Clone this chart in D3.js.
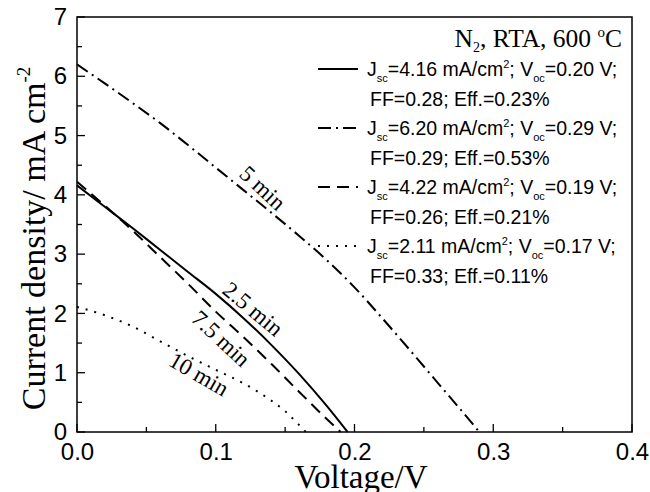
<!DOCTYPE html>
<html>
<head>
<meta charset="utf-8">
<script src="https://cdn.jsdelivr.net/npm/d3@7"></script>
<style>
  body { margin: 0; background: #fff; }
  svg { display: block; }
</style>
</head>
<body>
<script>
// J-V curves, N2 RTA 600 C
const volt25 = [0, 0.02, 0.04, 0.06, 0.08, 0.10, 0.12, 0.14, 0.16, 0.18, 0.195]
const curr25 = [4.16, 3.80, 3.44, 3.07, 2.70, 2.33, 1.92, 1.47, 0.98, 0.44, 0]

const volt5 = [0, 0.02, 0.04, 0.06, 0.08, 0.10, 0.12, 0.14, 0.16, 0.18, 0.20, 0.22, 0.24, 0.26, 0.28, 0.29]
const curr5 = [6.20, 5.88, 5.55, 5.21, 4.84, 4.46, 4.08, 3.70, 3.31, 2.90, 2.44, 1.92, 1.38, 0.83, 0.28, 0]

const volt75 = [0, 0.02, 0.04, 0.06, 0.08, 0.10, 0.12, 0.14, 0.16, 0.18, 0.19]
const curr75 = [4.22, 3.82, 3.40, 2.95, 2.50, 2.03, 1.60, 1.15, 0.68, 0.22, 0]

const volt10 = [0, 0.02, 0.04, 0.06, 0.08, 0.10, 0.12, 0.14, 0.15, 0.16, 0.165]
const curr10 = [2.11, 1.97, 1.78, 1.53, 1.28, 1.05, 0.82, 0.53, 0.35, 0.12, 0]

const xTicks = [0, 0.1, 0.2, 0.3, 0.4]
const yTicks = [0, 1, 2, 3, 4, 5, 6, 7]

const legendJsc = ['4.16', '6.20', '4.22', '2.11']
const legendVoc = ['0.20', '0.29', '0.19', '0.17']
const legendFF = ['0.28', '0.29', '0.26', '0.33']
const legendEff = ['0.23', '0.53', '0.21', '0.11']

const WIDTH = 650
const HEIGHT = 492
const mLeft = 77, mRight = 632, mTop = 17, mBottom = 432

const svg = d3.select('body')
  .append('svg')
  .attr('width', WIDTH)
  .attr('height', HEIGHT)

const x = d3.scaleLinear().domain([0, 0.4]).range([mLeft, mRight])
const y = d3.scaleLinear().domain([0, 7]).range([mBottom, mTop])

const sans = 'Liberation Sans, Arial, sans-serif'
const serif = 'Liberation Serif, Times New Roman, serif'

// styles des courbes
const styles = [
  { dash: null },
  { dash: '13,5,2,5' },
  { dash: '12,7' },
  { dash: '2,7' }
]

const series = [
  { v: volt25, j: curr25 },
  { v: volt5, j: curr5 },
  { v: volt75, j: curr75 },
  { v: volt10, j: curr10 }
]

const line = d3.line()
  .x(d => x(d[0]))
  .y(d => y(d[1]))
  .curve(d3.curveMonotoneX)

series.forEach((s, i) => {
  svg.append('path')
    .attr('d', line(s.v.map((v, k) => [v, s.j[k]])))
    .attr('fill', 'none')
    .attr('stroke', '#000')
    .attr('stroke-width', 2)
    .attr('stroke-dasharray', styles[i].dash)
})

// axes
const xAxis = d3.axisBottom(x).tickValues(xTicks).tickSize(0).tickPadding(11)
  .tickFormat(d3.format('.1f'))
const yAxis = d3.axisLeft(y).tickValues(yTicks).tickSize(0).tickPadding(10)
  .tickFormat(d3.format('d'))

const gx = svg.append('g').attr('transform', `translate(0,${mBottom})`).call(xAxis)
const gy = svg.append('g').attr('transform', `translate(${mLeft},0)`).call(yAxis)
gx.select('.domain').remove()
gy.select('.domain').remove()
svg.selectAll('.tick text')
  .attr('font-family', sans)
  .attr('font-size', 24)
  .attr('fill', '#000')

// ticks vers l'intérieur
const xMinor = d3.range(0, 0.401, 0.05)
svg.selectAll('.xt')
  .data(xMinor)
  .enter()
  .append('line')
  .attr('x1', d => x(d)).attr('x2', d => x(d))
  .attr('y1', mBottom)
  .attr('y2', (d, i) => mBottom - (i % 2 === 0 ? 8 : 5))
  .attr('stroke', '#000').attr('stroke-width', 1.3)

const yMinor = d3.range(0, 7.01, 0.5)
svg.selectAll('.yt')
  .data(yMinor)
  .enter()
  .append('line')
  .attr('y1', d => y(d)).attr('y2', d => y(d))
  .attr('x1', mLeft)
  .attr('x2', (d, i) => mLeft + (i % 2 === 0 ? 8 : 5))
  .attr('stroke', '#000').attr('stroke-width', 1.3)

svg.append('rect')
  .attr('x', mLeft).attr('y', mTop)
  .attr('width', mRight - mLeft).attr('height', mBottom - mTop)
  .attr('fill', 'none')
  .attr('stroke', '#000')
  .attr('stroke-width', 1.5)

// titres des axes
svg.append('text')
  .attr('x', 361)
  .attr('y', 488)
  .attr('text-anchor', 'middle')
  .attr('font-family', serif)
  .attr('font-size', 33)
  .text('Voltage/V')

const yTitle = svg.append('text')
  .attr('transform', `translate(45,${(mTop + mBottom) / 2 + 14}) rotate(-90)`)
  .attr('text-anchor', 'middle')
  .attr('font-family', serif)
  .attr('font-size', 34)
yTitle.append('tspan').text('Current density/ mA cm')
yTitle.append('tspan').attr('font-size', 19).attr('dy', -15).text('-2')

// étiquettes des courbes
const curveLabels = [
  { t: '2.5 min', cx: 0.127, cy: 2.08, a: 40 },
  { t: '5 min', cx: 0.134, cy: 4.12, a: 43 },
  { t: '7.5 min', cx: 0.104, cy: 1.58, a: 43 },
  { t: '10 min', cx: 0.088, cy: 0.98, a: 30 }
]
svg.selectAll('.clab')
  .data(curveLabels)
  .enter()
  .append('text')
  .attr('transform', d => `translate(${x(d.cx)},${y(d.cy)}) rotate(${d.a})`)
  .attr('text-anchor', 'middle')
  .attr('dy', '0.35em')
  .attr('font-family', serif)
  .attr('font-size', 23)
  .text(d => d.t)

// légende
const title = svg.append('text')
  .attr('x', 622).attr('y', 47)
  .attr('text-anchor', 'end')
  .attr('font-family', serif)
  .attr('font-size', 25.5)
title.append('tspan').text('N')
title.append('tspan').attr('font-size', 14).attr('dy', 5).text('2')
title.append('tspan').attr('dy', -5).text(', RTA, 600 ')
title.append('tspan').attr('font-size', 15).attr('dy', -10).text('o')
title.append('tspan').attr('dy', 10).text('C')

const step = 29.5
legendJsc.forEach((jsc, i) => {
  const b1 = 76 + i * 2 * step
  const b2 = b1 + step
  svg.append('line')
    .attr('x1', 318).attr('x2', 358)
    .attr('y1', b1 - 7).attr('y2', b1 - 7)
    .attr('stroke', '#000')
    .attr('stroke-width', 2)
    .attr('stroke-dasharray', styles[i].dash)

  const t1 = svg.append('text')
    .attr('x', 367).attr('y', b1)
    .attr('font-family', sans)
    .attr('font-size', 19.5)
  t1.append('tspan').text('J')
  t1.append('tspan').attr('font-size', 11).attr('dy', 6).text('sc')
  t1.append('tspan').attr('dy', -6).text(`=${jsc} mA/cm`)
  t1.append('tspan').attr('font-size', 11).attr('dy', -8).text('2')
  t1.append('tspan').attr('dy', 8).text('; V')
  t1.append('tspan').attr('font-size', 11).attr('dy', 6).text('oc')
  t1.append('tspan').attr('dy', -6).text(`=${legendVoc[i]} V;`)

  svg.append('text')
    .attr('x', 370).attr('y', b2)
    .attr('font-family', sans)
    .attr('font-size', 19.5)
    .text(`FF=${legendFF[i]}; Eff.=${legendEff[i]}%`)
})
</script>
</body>
</html>
